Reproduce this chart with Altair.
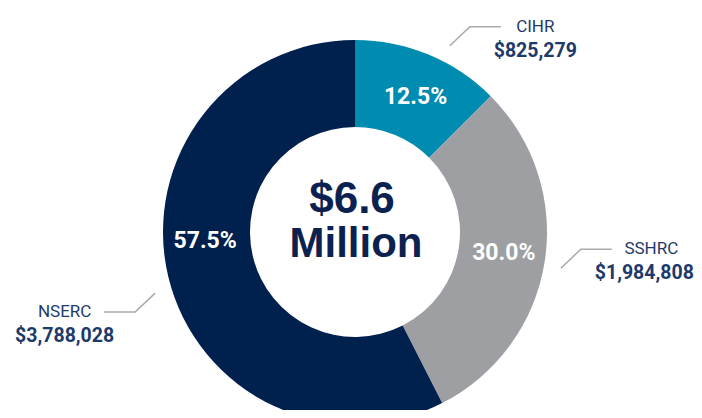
import math
import altair as alt
import pandas as pd

# ---- data ----
names = ["CIHR", "SSHRC", "NSERC"]
amounts = [825279, 1984808, 3788028]
shares = [12.5, 30.0, 57.5]
colors = ["#008BB0", "#9D9FA2", "#00204E"]

# ---- layout (view pixels; origin at donut centre, y up) ----
W, H = 686, 402
CX, CY = 347, 224
R_OUT, R_IN = 192, 105
LABEL_R = 150
LABEL_ANGLE = [23.8, 97.4, 267.3]
LEADER_ANGLE = [27, 100, 253]
LEADER_R = 209
FONT_N = "Roboto, sans-serif"
FONT_W = "Liberation Sans, Arial, Helvetica, sans-serif"
VALUE_FS = 19.5

xs = alt.Scale(domain=[-CX, W - CX], range=[0, W], nice=False, zero=False)
ys = alt.Scale(domain=[CY - H, CY], nice=False, zero=False)

slices = pd.DataFrame({"name": names, "amount": amounts, "pct": shares,
                       "k": list(range(len(names)))})

arcs = alt.Chart(slices).mark_arc(radius=R_OUT, radius2=R_IN).encode(
    theta=alt.Theta("pct:Q", stack=True),
    order=alt.Order("k:Q"),
    color=alt.Color("name:N", scale=alt.Scale(domain=names, range=colors), legend=None),
    x=alt.value(CX), y=alt.value(CY),
)

def polar(r, deg):
    a = math.radians(deg)
    return r * math.sin(a), r * math.cos(a)

def text_w(s, fs):
    return sum((0.2 if c in ",." else 0.5615) for c in s) * fs

# percentage labels
prow = []
for n, p, ang in zip(names, shares, LABEL_ANGLE):
    px, py = polar(LABEL_R, ang)
    prow.append({"x": px, "y": py - 9, "t": f"{p:.1f}%"})
pct_text = alt.Chart(pd.DataFrame(prow)).mark_text(
    font=FONT_N, fontSize=23, fontWeight="bold", color="white",
    align="center", baseline="alphabetic").encode(
    x=alt.X("x:Q", scale=xs, axis=None),
    y=alt.Y("y:Q", scale=ys, axis=None),
    text="t:N")

# leader lines and outside labels
lrow, trow = [], []
for n, a, ang in zip(names, amounts, LEADER_ANGLE):
    sx, sy = polar(LEADER_R, ang)
    side = 1 if sx > 0 else -1
    ex, ey = sx + side * 20, sy + side * 19
    fx, fy = ex + side * 31, ey
    for i, (u, v) in enumerate([(sx, sy), (ex, ey), (fx, fy)]):
        lrow.append({"name": n, "i": i, "x": u, "y": v})
    cx = fx + side * (14 + len(n) * 10.2 / 2)
    vt = f"${a:,}"
    half = text_w(vt, VALUE_FS) / 2
    vx = min(max(cx, -CX + half + 2), W - CX - half - 2)
    trow.append({"x": cx, "y": fy - 5, "t": n, "kind": "name"})
    trow.append({"x": vx, "y": fy - 30, "t": vt, "kind": "value"})

leaders = alt.Chart(pd.DataFrame(lrow)).mark_line(color="#A7A9AC", strokeWidth=1.5).encode(
    x=alt.X("x:Q", scale=xs, axis=None),
    y=alt.Y("y:Q", scale=ys, axis=None),
    detail="name:N", order="i:Q")

tdf = pd.DataFrame(trow)
name_text = alt.Chart(tdf).transform_filter(alt.datum.kind == "name").mark_text(
    font=FONT_N, fontSize=17, color="#1D3A6B", align="center", baseline="alphabetic").encode(
    x=alt.X("x:Q", scale=xs, axis=None), y=alt.Y("y:Q", scale=ys, axis=None), text="t:N")
value_text = alt.Chart(tdf).transform_filter(alt.datum.kind == "value").mark_text(
    font=FONT_N, fontSize=VALUE_FS, fontWeight="bold", color="#1D3A6B", align="center",
    baseline="alphabetic").encode(
    x=alt.X("x:Q", scale=xs, axis=None), y=alt.Y("y:Q", scale=ys, axis=None), text="t:N")

# centre total
total = sum(amounts)
cdf = pd.DataFrame({"x": [-3, 1], "y": [19, -25],
                    "t": [f"${total / 1e6:.1f}", "Million"], "s": [44, 42]})
centre = alt.Chart(cdf).mark_text(
    font=FONT_W, fontWeight="bold", color="#0B2150", align="center",
    baseline="alphabetic").encode(
    x=alt.X("x:Q", scale=xs, axis=None), y=alt.Y("y:Q", scale=ys, axis=None),
    text="t:N", size=alt.Size("s:Q", scale=None, legend=None))

chart = alt.layer(arcs, leaders, pct_text, name_text, value_text, centre).properties(
    width=W, height=H, padding=0, autosize="none", background="white"
).configure_view(stroke=None)

chart.save("out.html", embed_options={"renderer": "svg", "actions": False})
